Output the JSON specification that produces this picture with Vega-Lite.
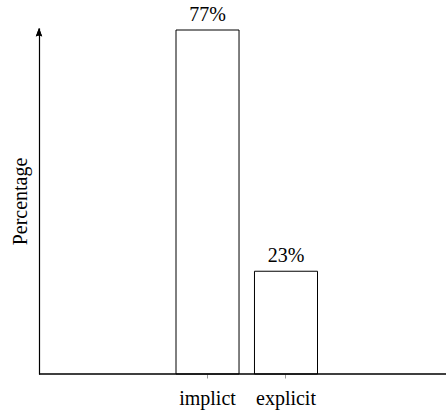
{
  "$schema": "https://vega.github.io/schema/vega-lite/v6.json",
  "autosize": "none",
  "width": 407,
  "height": 346,
  "padding": {"left": 39, "top": 28, "right": 0, "bottom": 39},
  "background": "white",
  "config": {
    "view": {"stroke": null},
    "font": "Liberation Serif",
    "axis": {"labelFont": "Liberation Serif", "titleFont": "Liberation Serif", "domainColor": "black", "domainWidth": 1.2}
  },
  "data": {"values": [
    {"type": "implict", "value": 0.77},
    {"type": "explicit", "value": 0.23}
  ]},
  "layer": [
    {
      "layer": [
        {
          "mark": {"type": "bar", "fill": "white", "stroke": "black", "strokeWidth": 1},
          "encoding": {
            "x": {"field": "type", "type": "nominal", "sort": null,
              "scale": {"domain": ["implict", "explicit"], "range": [137, 278.5], "paddingInner": 0.197, "paddingOuter": 0},
              "axis": {"title": null, "domain": false, "labelAngle": 0, "labelFontSize": 20, "labelColor": "black", "tickColor": "#999", "tickSize": 4, "tickWidth": 1, "labelPadding": 10}},
            "y": {"field": "value", "type": "quantitative",
              "scale": {"domain": [0, 0.7745], "nice": false, "zero": true},
              "axis": {"title": "Percentage", "titleFontSize": 20, "titleFontWeight": "normal", "titleColor": "black", "labels": false, "ticks": false, "grid": false, "titlePadding": 9}}
          }
        },
        {
          "mark": {"type": "text", "baseline": "alphabetic", "dy": -9, "fontSize": 20, "color": "black"},
          "encoding": {
            "x": {"field": "type", "type": "nominal", "sort": null},
            "y": {"field": "value", "type": "quantitative"},
            "text": {"field": "value", "type": "quantitative", "format": ".0%"}
          }
        },
        {
          "mark": {"type": "rule", "color": "black", "strokeWidth": 1.2},
          "encoding": {
            "y": {"datum": 0, "type": "quantitative"}
          }
        }
      ]
    },
    {
      "mark": {"type": "point", "shape": "M0,0 L-0.8,2.1 Q0,1.6 0.8,2.1 Z", "size": 64, "filled": true, "color": "black", "opacity": 1, "strokeWidth": 0},
      "encoding": {
        "x": {"datum": 0, "type": "quantitative", "scale": {"domain": [0, 1]}, "axis": null},
        "y": {"datum": 0.7745, "type": "quantitative"}
      }
    }
  ],
  "resolve": {"scale": {"x": "independent"}}
}
